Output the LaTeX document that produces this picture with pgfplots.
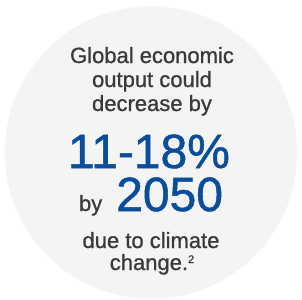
\documentclass[border=0pt]{standalone}
\usepackage{pgfplots}
\pgfplotsset{compat=1.18}
\usepackage{fontspec}
\setmainfont{Liberation Sans}
\newfontfamily\medfont[AutoFakeBold=0.9]{Liberation Sans}
\newfontfamily\bigfont[AutoFakeBold=1.1]{Liberation Sans}
\definecolor{circgray}{HTML}{F4F4F4}
\definecolor{txtgray}{HTML}{3A3A3A}
\definecolor{bigblue}{HTML}{0A4E9B}
\begin{document}
\begin{tikzpicture}
\begin{axis}[
  set layers=standard,
  scale only axis, width=302bp, height=300bp,
  xmin=0, xmax=302, ymin=0, ymax=300,
  hide axis, clip=false,
]
\addplot[on layer=axis background, fill=white, draw=none] coordinates {(0,0) (302,0) (302,300) (0,300)} \closedcycle;
\addplot[on layer=axis background, draw=none, only marks, mark=*, mark size=146bp, mark options={fill=circgray, draw=circgray}] coordinates {(151,147.5)};
\newcommand{\sm}{\medfont\bfseries\fontsize{22bp}{24bp}\selectfont}
\newcommand{\bg}{\bigfont\bfseries\fontsize{48bp}{50bp}\selectfont}
\begin{pgfonlayer}{axis foreground}
\node[anchor=base, text=txtgray, inner sep=0pt] at (axis cs:152,237) {\sm Global economic};
\node[anchor=base, text=txtgray, inner sep=0pt] at (axis cs:152,213) {\sm output could};
\node[anchor=base, text=txtgray, inner sep=0pt] at (axis cs:152,189) {\sm decrease by};
\node[anchor=base, text=bigblue, inner sep=0pt] at (axis cs:149,132) {\bg 11-18\%};
\node[anchor=base, inner sep=0pt] at (axis cs:151,89) {\textcolor{txtgray}{\sm by}\hspace{14bp}\textcolor{bigblue}{\bg 2050}};
\node[anchor=base, text=txtgray, inner sep=0pt] at (axis cs:151,52) {\sm due to climate};
\node[anchor=base, text=txtgray, inner sep=0pt] at (axis cs:152,30) {\sm change.\raisebox{7bp}{\medfont\fontsize{11bp}{12bp}\selectfont 2}};
\end{pgfonlayer}
\end{axis}
\end{tikzpicture}
\end{document}
